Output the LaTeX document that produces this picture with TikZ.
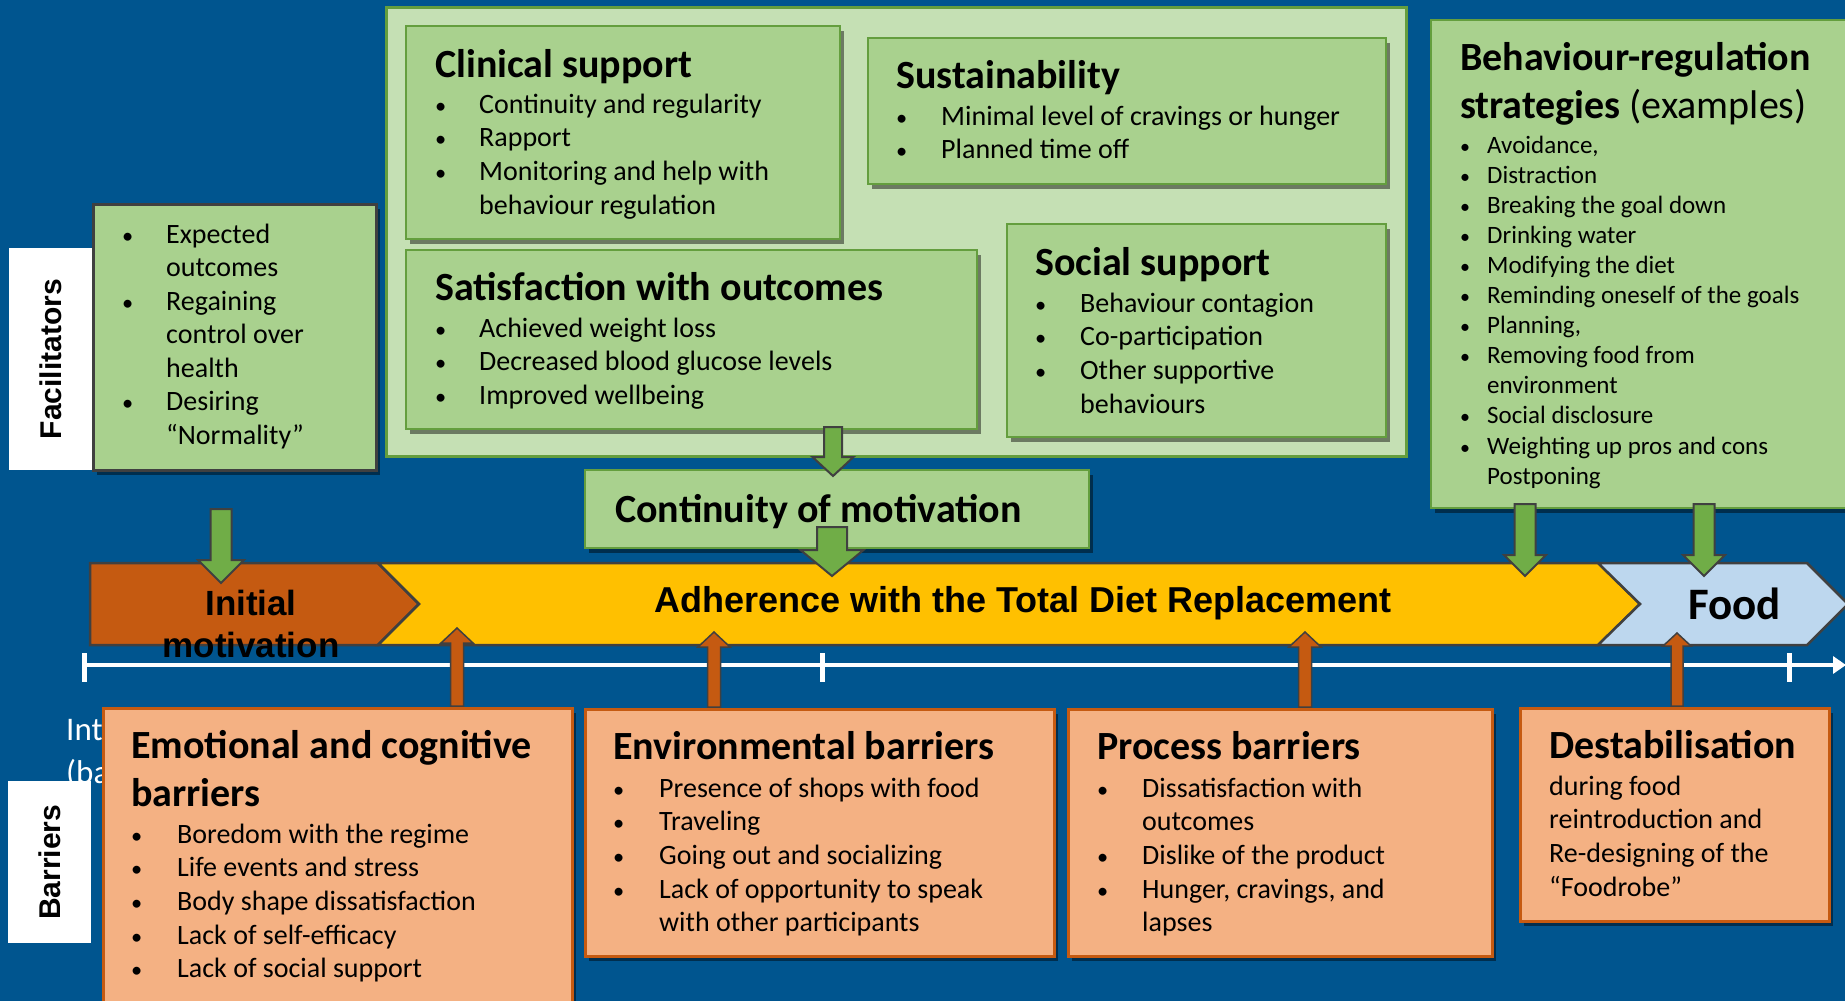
\documentclass[tikz,border=0pt]{standalone}
\usepackage{fontspec}
\setmainfont{Carlito}
\newfontfamily\arialfont{Liberation Sans}
\usetikzlibrary{calc,shadows,arrows.meta}

\definecolor{bgblue}{RGB}{0,85,143}
\definecolor{panelgreen}{RGB}{197,224,180}
\definecolor{boxgreen}{RGB}{169,209,142}
\definecolor{edgegreen}{RGB}{100,158,62}
\definecolor{arrowgreen}{RGB}{112,173,71}
\definecolor{boxorange}{RGB}{244,177,131}
\definecolor{edgeorange}{RGB}{197,90,17}
\definecolor{rust}{RGB}{197,90,17}
\definecolor{amber}{RGB}{255,192,0}
\definecolor{paleblue}{RGB}{189,215,238}
\definecolor{outline}{RGB}{64,64,64}

% rectangle panel given by its corners (x1,y1) and (x2,y2)
\newcommand{\panel}[6]{%
  \node[#1, anchor=north west, minimum width={(#5-#3)*1pt},
        minimum height={(#6-#4)*1pt}] (#2) at (#3,#4) {};}

% block arrow: style, start, tip, half shaft width, half head width, head length
\newcommand{\blockarrow}[6]{%
  \draw[#1] let \p1=(#2), \p2=(#3), \p3=($(#3)!#6!(#2)$) in
    (\x1-#4,\y1) -- (\x1+#4,\y1) -- (\x1+#4,\y3) -- (\x1+#5,\y3) -- (\x2,\y2)
    -- (\x1-#5,\y3) -- (\x1-#4,\y3) -- cycle;}

% bullet list: width of the bullet column, rows
\newcommand{\dotmark}{\scalebox{0.8}{\textbullet}}
\newcommand{\blist}[2]{\begin{tabular}[t]{@{}p{#1}@{}l@{}}#2\end{tabular}}
\newcommand{\lines}[1]{\begin{tabular}[t]{@{}l@{}}#1\end{tabular}}

\begin{document}
\begin{tikzpicture}[x=1pt,y=-1pt,
  shade/.style={drop shadow={shadow xshift=4pt, shadow yshift=-5pt, opacity=0.45, fill=black}},
  gbox/.style={draw=edgegreen, line width=2pt, fill=boxgreen, inner sep=0pt, shade},
  obox/.style={draw=edgeorange, line width=2.5pt, fill=boxorange, inner sep=0pt, shade},
  sidelabel/.style={fill=white, inner sep=0pt},
  sidetext/.style={rotate=90, inner sep=0pt, font=\arialfont\bfseries\fontsize{30}{36}\selectfont},
  heading/.style={anchor=base west, inner sep=0pt, font=\fontsize{40}{48.5}\selectfont\bfseries},
  items/.style={anchor=base west, inner sep=0pt, font=\fontsize{28}{33.7}\selectfont},
  stage/.style={draw=outline, line width=2.5pt, line join=miter},
  garrow/.style={fill=arrowgreen, draw=outline, line width=2pt, line join=miter},
  oarrow/.style={fill=rust, draw=outline, line width=1.5pt, line join=miter}]

\useasboundingbox (0,0) rectangle (1845,1001);
\clip (0,0) rectangle (1845,1001);
\fill[bgblue] (0,0) rectangle (1845,1001);

% ---------- facilitators ----------
\panel{draw=edgegreen, line width=2.5pt, fill=panelgreen, inner sep=0pt}{panel}{385}{6}{1405}{455}
\panel{gbox}{clin}{405}{25}{839}{238}
\panel{gbox}{sust}{867}{37}{1385}{183}
\panel{gbox}{sat}{405}{249}{976}{428}
\panel{gbox}{soc}{1006}{223}{1385}{436}

\node[heading] (clinT) at (435,77) {Clinical support};
\node[items] (clinL) at (435,113) {\blist{44pt}{%
  \dotmark & Continuity and regularity\\
  \dotmark & Rapport\\
  \dotmark & Monitoring and help with\\
           & behaviour regulation}};

\node[heading] (sustT) at (896,88) {Sustainability};
\node[items] (sustL) at (896,125) {\blist{45pt}{%
  \dotmark & Minimal level of cravings or hunger\\
  \dotmark & Planned time off}};

\node[heading] (satT) at (435,300) {Satisfaction with outcomes};
\node[items] (satL) at (435,337) {\blist{44pt}{%
  \dotmark & Achieved weight loss\\
  \dotmark & Decreased blood glucose levels\\
  \dotmark & Improved wellbeing}};

\node[heading] (socT) at (1035,275) {Social support};
\node[items] (socL) at (1035,312) {\blist{45pt}{%
  \dotmark & Behaviour contagion\\
  \dotmark & Co-participation\\
  \dotmark & Other supportive\\
           & behaviours}};

\panel{sidelabel}{faclab}{9}{248}{92}{470}
\node[sidetext] (factext) at (faclab.center) {Facilitators};
\panel{draw=outline, line width=2.5pt, fill=boxgreen, inner sep=0pt, shade}{fac}{92}{203}{375}{469}
\node[items, font=\fontsize{28}{33.5}\selectfont] (facL) at (122,243) {\blist{44pt}{%
  \dotmark & Expected\\
           & outcomes\\
  \dotmark & Regaining\\
           & control over\\
           & health\\
  \dotmark & Desiring\\
           & “Normality”}};

\panel{gbox}{beh}{1430}{19}{1860}{507}
\node[heading] (behT) at (1460,70) {\lines{Behaviour-regulation\\ strategies {\mdseries(examples)}}};
\node[items, font=\fontsize{25}{30.1}\selectfont] (behL) at (1460,153) {\blist{27pt}{%
  \dotmark & Avoidance,\\
  \dotmark & Distraction\\
  \dotmark & Breaking the goal down\\
  \dotmark & Drinking water\\
  \dotmark & Modifying the diet\\
  \dotmark & Reminding oneself of the goals\\
  \dotmark & Planning,\\
  \dotmark & Removing food from\\
           & environment\\
  \dotmark & Social disclosure\\
  \dotmark & Weighting up pros and cons\\
           & Postponing}};

\panel{gbox}{cont}{584}{469}{1088}{547}
\node[heading] (contT) at (615,522) {Continuity of motivation};

% ---------- stages of the programme ----------
\draw[stage, fill=rust] (90,563) -- (378,563) -- (419,604) -- (378,645) -- (90,645) -- cycle;
\draw[stage, fill=amber] (378,563) -- (1598,563) -- (1640,604) -- (1598,645) -- (378,645) -- (419,604) -- cycle;
\draw[stage, fill=paleblue] (1598,563) -- (1807,563) -- (1848,604) -- (1807,645) -- (1598,645) -- (1640,604) -- cycle;

\node[anchor=base, inner sep=0pt, font=\arialfont\bfseries\fontsize{35}{42}\selectfont] (initial) at (251,615)
  {\begin{tabular}[t]{@{}c@{}}Initial\\ motivation\end{tabular}};
\node[anchor=base, inner sep=0pt, font=\arialfont\bfseries\fontsize{36}{42}\selectfont] (tdr) at (1023,612)
  {Adherence with the Total Diet Replacement};
\node[anchor=base west, inner sep=0pt, font=\fontsize{45}{54}\selectfont\bfseries] (food) at (1688,619) {Food};

% timeline
\coordinate (tl0) at (84,665);
\coordinate (tl1) at (1846,665);
\draw[white, line width=3.5pt, -{Triangle[length=13pt,width=17pt]}] (tl0) -- (tl1);
\foreach \tx in {84,822,1789}
  \draw[white, line width=5pt] (\tx,653) -- (\tx,682);

\node[anchor=base west, inner sep=0pt, text=white, font=\fontsize{33}{43}\selectfont] (int1) at (66,740) {Int};
\node[anchor=base west, inner sep=0pt, text=white, font=\fontsize{33}{43}\selectfont] (int2) at (66,783) {(ba};
\node[anchor=base west, inner sep=0pt, text=white, opacity=0.7, font=\fontsize{33}{43}\selectfont] (int3) at (1821,783) {)};

% ---------- barriers ----------
\panel{sidelabel}{barlab}{8}{781}{91}{943}
\node[sidetext] (bartext) at (barlab.center) {Barriers};

\panel{obox}{emo}{102}{707}{571}{1015}
\node[heading] (emoT) at (131,758) {\lines{Emotional and cognitive\\ barriers}};
\node[items] (emoL) at (131,843) {\blist{46pt}{%
  \dotmark & Boredom with the regime\\
  \dotmark & Life events and stress\\
  \dotmark & Body shape dissatisfaction\\
  \dotmark & Lack of self-efficacy\\
  \dotmark & Lack of social support}};

\panel{obox}{env}{584}{708}{1053}{955}
\node[heading] (envT) at (613,759) {Environmental barriers};
\node[items] (envL) at (613,797) {\blist{46pt}{%
  \dotmark & Presence of shops with food\\
  \dotmark & Traveling\\
  \dotmark & Going out and socializing\\
  \dotmark & Lack of opportunity to speak\\
           & with other participants}};

\panel{obox}{proc}{1067}{708}{1491}{955}
\node[heading] (procT) at (1097,759) {Process barriers};
\node[items] (procL) at (1097,797) {\blist{45pt}{%
  \dotmark & Dissatisfaction with\\
           & outcomes\\
  \dotmark & Dislike of the product\\
  \dotmark & Hunger, cravings, and\\
           & lapses}};

\panel{obox}{dest}{1519}{707}{1828}{920}
\node[heading] (destT) at (1549,758) {Destabilisation};
\node[items] (destL) at (1549,795) {\lines{%
  during food\\
  reintroduction and\\
  Re-designing of the\\
  “Foodrobe”}};

% ---------- influences ----------
\coordinate (g1s) at (221,509);  \coordinate (g1t) at (221,583);
\coordinate (g2s) at (833,427);  \coordinate (g2t) at (833,476);
\coordinate (g3s) at (832,527);  \coordinate (g3t) at (832,576);
\coordinate (g4s) at (1525,504); \coordinate (g4t) at (1525,576);
\coordinate (g5s) at (1704,504); \coordinate (g5t) at (1704,576);
\blockarrow{garrow}{g1s}{g1t}{10.5pt}{23pt}{23pt}
\blockarrow{garrow}{g2s}{g2t}{9pt}{20.5pt}{19pt}
\blockarrow{garrow}{g3s}{g3t}{15pt}{31.5pt}{26pt}
\blockarrow{garrow}{g4s}{g4t}{10.5pt}{21pt}{21pt}
\blockarrow{garrow}{g5s}{g5t}{10.5pt}{21pt}{21pt}

\coordinate (o1s) at (457,706);  \coordinate (o1t) at (457,628);
\coordinate (o2s) at (714,707);  \coordinate (o2t) at (714,632);
\coordinate (o3s) at (1305,707); \coordinate (o3t) at (1305,632);
\coordinate (o4s) at (1677,706); \coordinate (o4t) at (1677,633);
\blockarrow{oarrow}{o1s}{o1t}{6.5pt}{16pt}{15pt}
\blockarrow{oarrow}{o2s}{o2t}{6.5pt}{16pt}{15pt}
\blockarrow{oarrow}{o3s}{o3t}{6.5pt}{16pt}{15pt}
\blockarrow{oarrow}{o4s}{o4t}{6pt}{14pt}{13pt}

\end{tikzpicture}
\end{document}
